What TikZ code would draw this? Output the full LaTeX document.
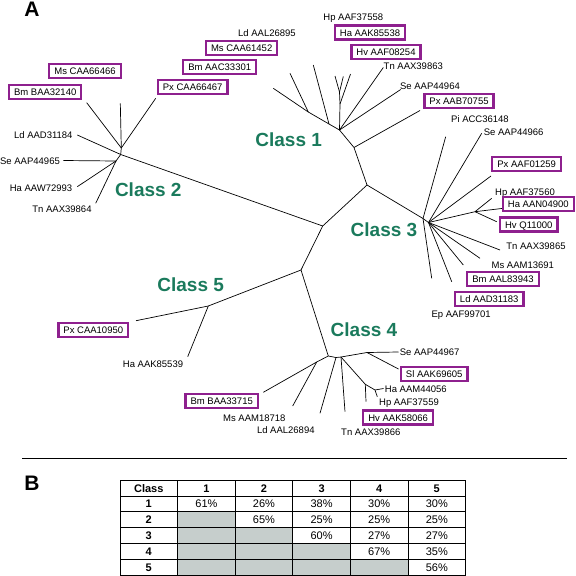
\documentclass[tikz,border=0pt]{standalone}
\usepackage{fontspec}
\setmainfont{Liberation Sans}
\definecolor{boxpurple}{RGB}{142,32,142}
\definecolor{classgreen}{RGB}{26,122,92}
\definecolor{cellgray}{RGB}{198,206,204}
\begin{document}
\begin{tikzpicture}[x = 1pt, y = -1pt, line width = 0.7pt,
        lab/.style = {font = \fontsize{9.5}{11}\selectfont, inner sep = 0pt, text height = 7pt, text depth = 0pt},
        boxed/.style = {lab, draw = boxpurple, line width = 2.2pt, inner xsep = 5pt, inner ysep = 3.5pt},
        cls/.style = {font = \fontsize{19}{22}\selectfont\bfseries, text = classgreen, inner sep = 0pt, text height = 13.6pt, text depth = 0pt},
        panel/.style = {font = \fontsize{21}{24}\selectfont\bfseries, inner sep = 0pt, text height = 15pt, text depth = 0pt},
        cell/.style = {font = \fontsize{11}{13}\selectfont, inner sep = 0pt, text height = 8pt, text depth = 0pt}]
    \useasboundingbox (0, 0) rectangle (576, 576);

    % A: tree
    \node[panel] (pa) at (32, 8.5) {A};

    % inner branching points
    \coordinate (a) at (367, 185);
    \coordinate (b) at (322.7, 226);
    \coordinate (c) at (301, 270);
    \coordinate (r1) at (354, 147.5);
    \coordinate (r1e) at (339.5, 130);
    \coordinate (r1g) at (329, 124);
    \coordinate (r1f) at (308.3, 112);
    \coordinate (r1h) at (339.5, 92);
    \coordinate (r1i) at (340, 104);
    \coordinate (r2) at (120.7, 154.5);
    \coordinate (r2a) at (121.3, 148);
    \coordinate (r2b) at (116, 161);
    \coordinate (r3) at (423, 218.5);
    \coordinate (r3b) at (428.5, 222.5);
    \coordinate (r3j) at (475, 211.7);
    \coordinate (r4) at (328.3, 356);
    \coordinate (r4m) at (367, 352.5);
    \coordinate (r4n) at (316.7, 362);
    \coordinate (r4p) at (336, 357.5);
    \coordinate (r4q) at (341, 357);
    \coordinate (r4s) at (365.3, 384.3);
    \coordinate (r4t) at (375, 390);
    \coordinate (r5) at (208.3, 306);

    % backbone
    \draw (r1) -- (a) -- (b) -- (c) -- (r5);
    \draw (a) -- (r3) -- (r3b);
    \draw (b) -- (r2);
    \draw (c) -- (r4);

    % class 1
    \draw (r1) -- (r1e) -- (r1g) -- (r1f) -- (273.3, 88.3);
    \draw (r1f) -- (290, 73.3);
    \draw (r1g) -- (313.3, 65);
    \draw (r1e) -- (r1i) -- (r1h) -- (335, 76);
    \draw (r1h) -- (343.3, 76.5);
    \draw (r1i) -- (350.5, 74);
    \draw (r1e) -- (383.3, 67.5);
    \draw (r1e) -- (400.7, 89.5);
    \draw (r1) -- (420, 110.5);

    % class 2
    \draw (r2) -- (r2a) -- (86.7, 102.7);
    \draw (r2a) -- (120.3, 103.3);
    \draw (r2a) -- (155.7, 98.3);
    \draw (r2) -- (77.3, 135);
    \draw (r2) -- (r2b) -- (63.3, 160.5);
    \draw (r2b) -- (77.3, 186.7);
    \draw (r2b) -- (95.7, 203.3);

    % class 3
    \draw (r3) -- (445.7, 136.7);
    \draw (r3b) -- (481.7, 133.3);
    \draw (r3b) -- (491, 176);
    \draw (r3b) -- (r3j) -- (491.7, 198.3);
    \draw (r3j) -- (503.3, 208.3);
    \draw (r3j) -- (496.7, 221.7);
    \draw (r3b) -- (500, 250);
    \draw (r3b) -- (480, 258.3);
    \draw (r3b) -- (463.3, 265);
    \draw (r3b) -- (451.7, 281.7);
    \draw (r3) -- (431.7, 278.3);

    % class 4
    \draw (r4) -- (r4p) -- (r4q) -- (r4m) -- (398.5, 352);
    \draw (r4m) -- (398.5, 369);
    \draw (r4) -- (r4n) -- (263.3, 392.3);
    \draw (r4n) -- (292.7, 406);
    \draw (r4p) -- (320, 413.3);
    \draw (r4q) -- (345, 411.7);
    \draw (r4q) -- (r4s) -- (366, 401.7);
    \draw (r4s) -- (r4t) -- (377.3, 396.7);
    \draw (r4t) -- (383.5, 388.5);

    % class 5
    \draw (r5) -- (136, 320.7);
    \draw (r5) -- (187.7, 356.7);

    % class names
    \node[cls] (k1) at (288.7, 140) {Class 1};
    \node[cls] (k2) at (148.3, 189.3) {Class 2};
    \node[cls] (k3) at (384, 230) {Class 3};
    \node[cls] (k4) at (364, 330) {Class 4};
    \node[cls] (k5) at (190.7, 285) {Class 5};

    % leaves, class 1
    \node[lab] (l11) at (267, 33) {Ld AAL26895};
    \node[boxed] (l12) at (241.7, 47.7) {Ms CAA61452};
    \node[boxed] (l13) at (219.7, 67.2) {Bm AAC33301};
    \node[lab] (l14) at (353.3, 17.3) {Hp AAF37558};
    \node[boxed] (l15) at (370, 32.5) {Ha AAK85538};
    \node[boxed] (l16) at (386, 52.2) {Hv AAF08254};
    \node[lab] (l17) at (413.3, 66) {Tn AAX39863};
    \node[lab] (l18) at (430, 86) {Se AAP44964};
    \node[boxed] (l19) at (459, 101) {Px AAB70755};

    % leaves, class 2
    \node[boxed] (l21) at (85, 70.8) {Ms CAA66466};
    \node[boxed] (l22) at (45.2, 92) {Bm BAA32140};
    \node[boxed] (l23) at (192.7, 87) {Px CAA66467};
    \node[lab] (l24) at (43.3, 135) {Ld AAD31184};
    \node[lab] (l25) at (30, 161) {Se AAP44965};
    \node[lab] (l26) at (41, 187.7) {Ha AAW72993};
    \node[lab] (l27) at (62, 209.3) {Tn AAX39864};

    % leaves, class 3
    \node[lab] (l31) at (480, 119.3) {Pi ACC36148};
    \node[lab] (l32) at (513.7, 131.7) {Se AAP44966};
    \node[boxed] (l33) at (526.7, 163.8) {Px AAF01259};
    \node[lab] (l34) at (525, 191.7) {Hp AAF37560};
    \node[boxed] (l35) at (538.3, 204.3) {Ha AAN04900};
    \node[boxed] (l36) at (528.8, 224.5) {Hv Q11000};
    \node[lab] (l37) at (536, 246) {Tn AAX39865};
    \node[lab] (l38) at (522.8, 265) {Ms AAM13691};
    \node[boxed] (l39) at (503, 279.2) {Bm AAL83943};
    \node[boxed] (l3a) at (489.2, 298.8) {Ld AAD31183};
    \node[lab] (l3b) at (461.2, 314.3) {Ep AAF99701};

    % leaves, class 4
    \node[lab] (l41) at (429.7, 351.7) {Se AAP44967};
    \node[boxed] (l42) at (434.2, 374.2) {Sl AAK69605};
    \node[lab] (l43) at (415.8, 389.3) {Ha AAM44056};
    \node[lab] (l44) at (409, 402.3) {Hp AAF37559};
    \node[boxed] (l45) at (398.2, 417.5) {Hv AAK58066};
    \node[lab] (l46) at (370.8, 432.3) {Tn AAX39866};
    \node[lab] (l47) at (285.8, 430) {Ld AAL26894};
    \node[lab] (l48) at (254.3, 417.7) {Ms AAM18718};
    \node[boxed] (l49) at (221.7, 401.3) {Bm BAA33715};

    % leaves, class 5
    \node[boxed] (l51) at (93.3, 330.3) {Px CAA10950};
    \node[lab] (l52) at (153, 364.3) {Ha AAK85539};

    \draw[line width = 1.3pt] (22, 458.3) -- (566.7, 458.3);

    % B: identity table
    \node[panel] (pb) at (32, 483) {B};
    \foreach \r/\n in {2/1, 3/2, 4/3, 5/4}
        \fill[cellgray] (177.6, 480 + 15.9*\r) rectangle (177.6 + 57.6*\n, 495.9 + 15.9*\r);
    \foreach \r in {1, ..., 5}
        \draw[line width = 0.8pt] (120, 480 + 15.9*\r) -- (465.6, 480 + 15.9*\r);
    \foreach \c in {1, ..., 5}
        \draw[line width = 0.8pt] (120 + 57.6*\c, 480) -- (120 + 57.6*\c, 575.4);
    \draw[line width = 0.8pt] (120, 480) rectangle (465.6, 575.4);
    \node[cell, font = \fontsize{11}{13}\selectfont\bfseries] (h0) at (148.8, 488) {Class};
    \foreach \c in {1, ..., 5} {
        \node[cell, font = \fontsize{11}{13}\selectfont\bfseries] at (148.8 + 57.6*\c, 488) {\c};
        \node[cell, font = \fontsize{11}{13}\selectfont\bfseries] at (148.8, 488 + 15.9*\c) {\c};
    }
    \foreach \r/\c/\v in {1/1/61, 1/2/26, 1/3/38, 1/4/30, 1/5/30,
                          2/2/65, 2/3/25, 2/4/25, 2/5/25,
                          3/3/60, 3/4/27, 3/5/27,
                          4/4/67, 4/5/35,
                          5/5/56}
        \node[cell] at (148.8 + 57.6*\c, 488 + 15.9*\r) {\v\%};
\end{tikzpicture}
\end{document}
